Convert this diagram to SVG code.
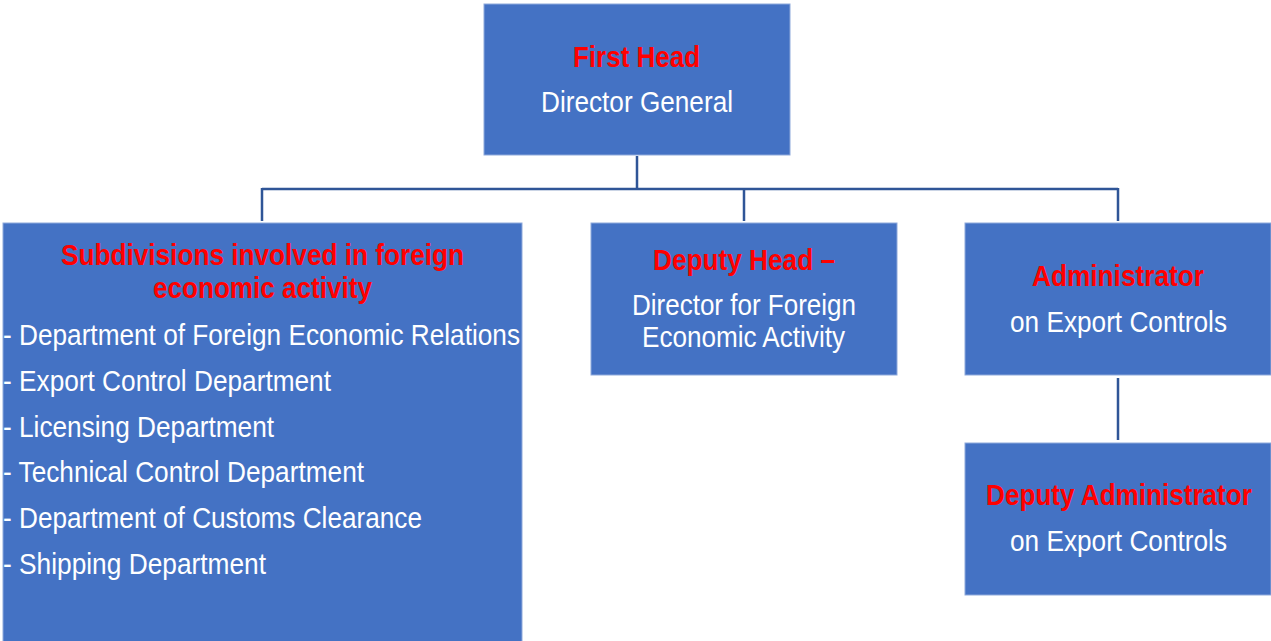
<svg xmlns="http://www.w3.org/2000/svg" width="1271" height="641" viewBox="0 0 1271 641">
<style>
.box{fill:#4472C4;stroke:#8EA9DB;stroke-width:1}
.t{font-family:"Liberation Sans",Arial,sans-serif;font-size:30px;fill:#FFFFFF}
.h{font-family:"Liberation Sans",Arial,sans-serif;font-size:29px;font-weight:bold;fill:#FF0000}
.c{text-anchor:middle}
.conn{stroke:#2F5597;stroke-width:2.5;fill:none}
</style>
<rect width="1271" height="641" fill="#FFFFFF"/>
<g id="connectors">
<path class="conn" d="M637 156 V189 M262 189 H1118 M262 188 V221 M744 188 V221 M1118 188 V221 M1118 378 V440"/>
</g>
<g id="first-head">
<rect class="box" x="484" y="4" width="306" height="151"/>
<text class="h c" x="636.5" y="67" textLength="127" lengthAdjust="spacingAndGlyphs">First Head</text>
<text class="t c" x="637" y="112" textLength="192" lengthAdjust="spacingAndGlyphs">Director General</text>
</g>
<g id="subdivisions">
<rect class="box" x="3" y="223" width="519" height="430"/>
<text class="h c" x="262.5" y="265" textLength="403" lengthAdjust="spacingAndGlyphs">Subdivisions involved in foreign</text>
<text class="h c" x="262.5" y="298" textLength="219" lengthAdjust="spacingAndGlyphs">economic activity</text>
<text class="t" x="3" y="345" textLength="517" lengthAdjust="spacingAndGlyphs">- Department of Foreign Economic Relations</text>
<text class="t" x="3" y="391" textLength="328" lengthAdjust="spacingAndGlyphs">- Export Control Department</text>
<text class="t" x="3" y="437" textLength="271" lengthAdjust="spacingAndGlyphs">- Licensing Department</text>
<text class="t" x="3" y="482" textLength="361" lengthAdjust="spacingAndGlyphs">- Technical Control Department</text>
<text class="t" x="3" y="528" textLength="419" lengthAdjust="spacingAndGlyphs">- Department of Customs Clearance</text>
<text class="t" x="3" y="574" textLength="263" lengthAdjust="spacingAndGlyphs">- Shipping Department</text>
</g>
<g id="deputy-head">
<rect class="box" x="591" y="223" width="306" height="152"/>
<text class="h c" x="744" y="270" textLength="182" lengthAdjust="spacingAndGlyphs">Deputy Head –</text>
<text class="t c" x="744" y="315" textLength="224" lengthAdjust="spacingAndGlyphs">Director for Foreign</text>
<text class="t c" x="743.5" y="347" textLength="203" lengthAdjust="spacingAndGlyphs">Economic Activity</text>
</g>
<g id="administrator">
<rect class="box" x="965" y="223" width="306" height="152"/>
<text class="h c" x="1118" y="286" textLength="172" lengthAdjust="spacingAndGlyphs">Administrator</text>
<text class="t c" x="1118.5" y="332" textLength="217" lengthAdjust="spacingAndGlyphs">on Export Controls</text>
</g>
<g id="deputy-administrator">
<rect class="box" x="965" y="443" width="306" height="152"/>
<text class="h c" transform="translate(1119 505) scale(0.9 1)" x="0" y="0">Deputy Administrator</text>
<text class="t c" x="1118.5" y="551" textLength="217" lengthAdjust="spacingAndGlyphs">on Export Controls</text>
</g>
</svg>
